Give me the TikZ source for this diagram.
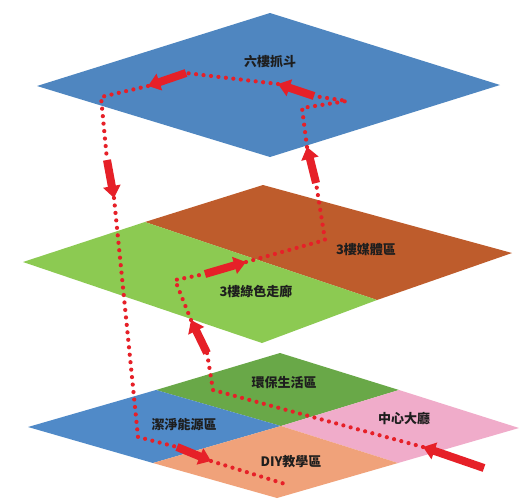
\documentclass[tikz,border=0pt]{standalone}
\usepackage{fontspec}
\newfontfamily\cjk{Noto Sans CJK TC}
\usetikzlibrary{arrows.meta}
\definecolor{topblue}{RGB}{79,134,192}
\definecolor{brownarea}{RGB}{190,92,44}
\definecolor{lightgreen}{RGB}{140,202,82}
\definecolor{darkgreen}{RGB}{105,168,72}
\definecolor{lowblue}{RGB}{80,138,200}
\definecolor{pinkarea}{RGB}{240,172,202}
\definecolor{salmon}{RGB}{240,162,122}
\definecolor{pathred}{RGB}{230,32,40}
\definecolor{labeltext}{RGB}{30,30,30}
\tikzset{
  dotpath/.style={pathred, line width=4.2pt, dash pattern=on 0pt off 7.5pt, line cap=round},
  bigarrow/.style={pathred, line width=8pt, -{Triangle[width=17pt,length=12pt]}},
  lbl/.style={font=\cjk\bfseries\fontsize{13}{15}\selectfont, text=labeltext, inner sep=0pt}
}
\begin{document}
\begin{tikzpicture}[x=1pt,y=-1pt]
\useasboundingbox (0,0) rectangle (521,501);
\fill[white] (0,0) rectangle (521,501);
% top plane
\coordinate (Tt) at (270,13);
\coordinate (Tl) at (37,86);
\coordinate (Tr) at (500,85);
\coordinate (Tb) at (270,157);
\fill[topblue] (Tt) -- (Tr) -- (Tb) -- (Tl) -- cycle;
% middle plane
\coordinate (Mt) at (263,185);
\coordinate (Ml) at (23,262);
\coordinate (Mr) at (512,253);
\coordinate (Mb) at (262,343);
\coordinate (Ma) at (145,222);
\coordinate (Mc) at (377,300);
\fill[brownarea] (Mt) -- (Mr) -- (Mc) -- (Ma) -- cycle;
\fill[lightgreen] (Ma) -- (Mc) -- (Mb) -- (Ml) -- cycle;
% bottom plane
\coordinate (Bt) at (280,353);
\coordinate (Bl) at (28,427);
\coordinate (Br) at (519,428);
\coordinate (Bb) at (277,498);
\coordinate (Btl) at (156,390);
\coordinate (Btr) at (399,390);
\coordinate (Bbl) at (153,463);
\coordinate (Bbr) at (398,463);
\coordinate (Bc) at (281,426);
\fill[darkgreen] (Bt) -- (Btr) -- (Bc) -- (Btl) -- cycle;
\fill[lowblue] (Btl) -- (Bc) -- (Bbl) -- (Bl) -- cycle;
\fill[pinkarea] (Btr) -- (Br) -- (Bbr) -- (Bc) -- cycle;
\fill[salmon] (Bc) -- (Bbr) -- (Bb) -- (Bbl) -- cycle;
% labels
\node[lbl] (l6) at (270,62) {六樓抓斗};
\node[lbl] (lmedia) at (366,250) {3樓媒體區};
\node[lbl] (lgreen) at (256,292) {3樓綠色走廊};
\node[lbl] (leco) at (284,383) {環保生活區};
\node[lbl] (lclean) at (184,425) {潔淨能源區};
\node[lbl] (lhall) at (404,418) {中心大廳};
\node[lbl] (ldiy) at (291,462) {DIY教學區};
% route points
\coordinate (S0) at (484,468);
\coordinate (S1) at (423,447);
\coordinate (P1) at (213,390);
\coordinate (P2) at (207,353);
\coordinate (P3) at (191,320);
\coordinate (P4) at (175,280);
\coordinate (P5) at (205,274);
\coordinate (P6) at (246,262);
\coordinate (P7) at (325,240);
\coordinate (P8) at (316,183);
\coordinate (P9) at (307,147);
\coordinate (P10) at (302,108);
\coordinate (P11) at (347,101);
\coordinate (P12) at (314,96);
\coordinate (P13) at (278,84);
\coordinate (P14) at (186,73);
\coordinate (P15) at (148,86);
\coordinate (P16) at (101,97);
\coordinate (P17) at (107,160);
\coordinate (P18) at (114,198);
\coordinate (P19) at (138,437);
\coordinate (P20) at (177,447);
\coordinate (P21) at (211,461);
\coordinate (P22) at (285,484);
% dotted route
\draw[dotpath] (S1) -- (P1) -- (P2);
\draw[dotpath] (P3) -- (P4) -- (P5);
\draw[dotpath] (P6) -- (P7) -- (P8);
\draw[dotpath] (P9) -- (P10) -- (P11) -- (P12);
\draw[dotpath] (P13) -- (P14);
\draw[dotpath] (P15) -- (P16) -- (P17);
\draw[dotpath] (P18) -- (P19) -- (P20);
\draw[dotpath] (P21) -- (P22);
% arrows
\draw[bigarrow] (S0) -- (S1);
\draw[bigarrow] (P2) -- (P3);
\draw[bigarrow] (P5) -- (P6);
\draw[bigarrow] (P8) -- (P9);
\draw[bigarrow] (P12) -- (P13);
\draw[bigarrow] (P14) -- (P15);
\draw[bigarrow] (P17) -- (P18);
\draw[bigarrow] (P20) -- (P21);
\end{tikzpicture}
\end{document}
